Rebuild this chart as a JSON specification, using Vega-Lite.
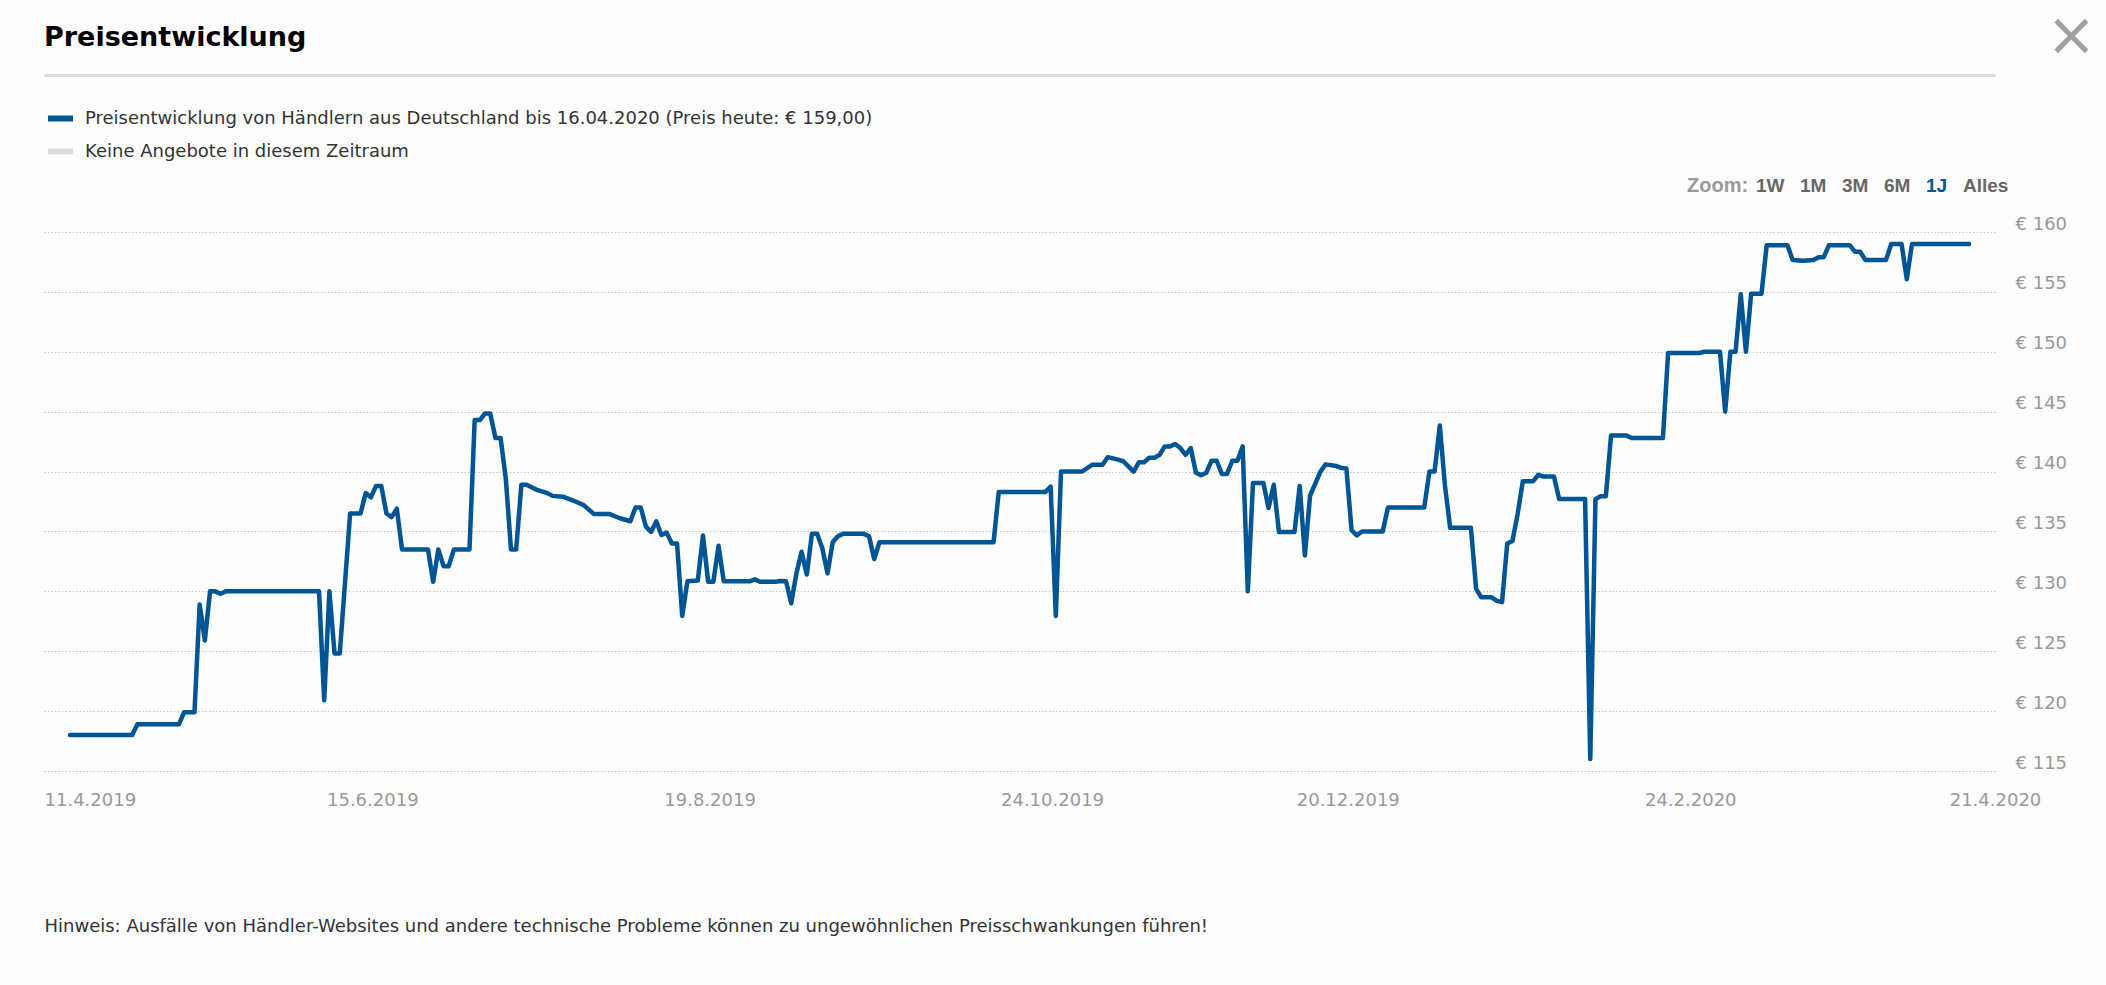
{
  "$schema": "https://vega.github.io/schema/vega-lite/v6.json",
  "width": 1951,
  "height": 539,
  "autosize": {"type": "none"},
  "padding": {"left": 44, "top": 232, "right": 111, "bottom": 214},
  "background": "#fdfdfd",
  "config": {"view": {"stroke": null}, "font": "DejaVu Sans"},
  "title": {
    "text": "Preisentwicklung",
    "anchor": "start",
    "frame": "group",
    "font": "DejaVu Sans",
    "fontSize": 27,
    "fontWeight": "bold",
    "color": "#000000",
    "offset": -46
  },
  "datasets": {
    "preise": [
      {"tag": "2019-04-16", "preis": 118.0},
      {"tag": "2019-04-28", "preis": 118.0},
      {"tag": "2019-04-29", "preis": 118.9},
      {"tag": "2019-05-07", "preis": 118.9},
      {"tag": "2019-05-08", "preis": 119.9},
      {"tag": "2019-05-10", "preis": 119.9},
      {"tag": "2019-05-11", "preis": 128.9},
      {"tag": "2019-05-12", "preis": 125.9},
      {"tag": "2019-05-13", "preis": 130.0},
      {"tag": "2019-05-14", "preis": 130.0},
      {"tag": "2019-05-15", "preis": 129.8},
      {"tag": "2019-05-16", "preis": 130.0},
      {"tag": "2019-06-03", "preis": 130.0},
      {"tag": "2019-06-04", "preis": 120.9},
      {"tag": "2019-06-05", "preis": 130.0},
      {"tag": "2019-06-06", "preis": 124.8},
      {"tag": "2019-06-07", "preis": 124.8},
      {"tag": "2019-06-09", "preis": 136.5},
      {"tag": "2019-06-11", "preis": 136.5},
      {"tag": "2019-06-12", "preis": 138.2},
      {"tag": "2019-06-13", "preis": 137.85},
      {"tag": "2019-06-14", "preis": 138.8},
      {"tag": "2019-06-15", "preis": 138.8},
      {"tag": "2019-06-16", "preis": 136.5},
      {"tag": "2019-06-17", "preis": 136.2},
      {"tag": "2019-06-18", "preis": 136.9},
      {"tag": "2019-06-19", "preis": 133.5},
      {"tag": "2019-06-24", "preis": 133.5},
      {"tag": "2019-06-25", "preis": 130.8},
      {"tag": "2019-06-26", "preis": 133.5},
      {"tag": "2019-06-27", "preis": 132.1},
      {"tag": "2019-06-28", "preis": 132.1},
      {"tag": "2019-06-29", "preis": 133.5},
      {"tag": "2019-07-02", "preis": 133.5},
      {"tag": "2019-07-03", "preis": 144.3},
      {"tag": "2019-07-04", "preis": 144.3},
      {"tag": "2019-07-05", "preis": 144.85},
      {"tag": "2019-07-06", "preis": 144.85},
      {"tag": "2019-07-07", "preis": 142.8},
      {"tag": "2019-07-08", "preis": 142.8},
      {"tag": "2019-07-09", "preis": 139.4},
      {"tag": "2019-07-10", "preis": 133.5},
      {"tag": "2019-07-11", "preis": 133.5},
      {"tag": "2019-07-12", "preis": 138.9},
      {"tag": "2019-07-13", "preis": 138.9},
      {"tag": "2019-07-15", "preis": 138.47},
      {"tag": "2019-07-17", "preis": 138.2},
      {"tag": "2019-07-18", "preis": 137.97},
      {"tag": "2019-07-20", "preis": 137.9},
      {"tag": "2019-07-22", "preis": 137.58},
      {"tag": "2019-07-24", "preis": 137.2},
      {"tag": "2019-07-26", "preis": 136.45},
      {"tag": "2019-07-29", "preis": 136.45},
      {"tag": "2019-07-31", "preis": 136.1},
      {"tag": "2019-08-02", "preis": 135.85},
      {"tag": "2019-08-03", "preis": 137.0},
      {"tag": "2019-08-04", "preis": 137.0},
      {"tag": "2019-08-05", "preis": 135.4},
      {"tag": "2019-08-06", "preis": 134.96},
      {"tag": "2019-08-07", "preis": 135.85},
      {"tag": "2019-08-08", "preis": 134.7},
      {"tag": "2019-08-09", "preis": 134.9},
      {"tag": "2019-08-10", "preis": 134.0},
      {"tag": "2019-08-11", "preis": 134.0},
      {"tag": "2019-08-12", "preis": 127.95},
      {"tag": "2019-08-13", "preis": 130.84},
      {"tag": "2019-08-15", "preis": 130.9},
      {"tag": "2019-08-16", "preis": 134.66},
      {"tag": "2019-08-17", "preis": 130.8},
      {"tag": "2019-08-18", "preis": 130.8},
      {"tag": "2019-08-19", "preis": 133.8},
      {"tag": "2019-08-20", "preis": 130.84},
      {"tag": "2019-08-25", "preis": 130.84},
      {"tag": "2019-08-26", "preis": 131.0},
      {"tag": "2019-08-27", "preis": 130.8},
      {"tag": "2019-08-30", "preis": 130.8},
      {"tag": "2019-08-31", "preis": 130.87},
      {"tag": "2019-09-01", "preis": 130.84},
      {"tag": "2019-09-02", "preis": 129.0},
      {"tag": "2019-09-03", "preis": 131.5},
      {"tag": "2019-09-04", "preis": 133.3},
      {"tag": "2019-09-05", "preis": 131.4},
      {"tag": "2019-09-06", "preis": 134.8},
      {"tag": "2019-09-07", "preis": 134.8},
      {"tag": "2019-09-08", "preis": 133.6},
      {"tag": "2019-09-09", "preis": 131.5},
      {"tag": "2019-09-10", "preis": 134.1},
      {"tag": "2019-09-11", "preis": 134.6},
      {"tag": "2019-09-12", "preis": 134.8},
      {"tag": "2019-09-16", "preis": 134.8},
      {"tag": "2019-09-17", "preis": 134.6},
      {"tag": "2019-09-18", "preis": 132.7},
      {"tag": "2019-09-19", "preis": 134.1},
      {"tag": "2019-10-11", "preis": 134.1},
      {"tag": "2019-10-12", "preis": 138.3},
      {"tag": "2019-10-21", "preis": 138.3},
      {"tag": "2019-10-22", "preis": 138.74},
      {"tag": "2019-10-23", "preis": 127.95},
      {"tag": "2019-10-24", "preis": 140.0},
      {"tag": "2019-10-28", "preis": 140.0},
      {"tag": "2019-10-30", "preis": 140.56},
      {"tag": "2019-11-01", "preis": 140.56},
      {"tag": "2019-11-02", "preis": 141.2},
      {"tag": "2019-11-04", "preis": 141.0},
      {"tag": "2019-11-05", "preis": 140.86},
      {"tag": "2019-11-07", "preis": 140.0},
      {"tag": "2019-11-08", "preis": 140.77},
      {"tag": "2019-11-09", "preis": 140.77},
      {"tag": "2019-11-10", "preis": 141.15},
      {"tag": "2019-11-11", "preis": 141.15},
      {"tag": "2019-11-12", "preis": 141.4},
      {"tag": "2019-11-13", "preis": 142.1},
      {"tag": "2019-11-14", "preis": 142.1},
      {"tag": "2019-11-15", "preis": 142.3},
      {"tag": "2019-11-16", "preis": 141.96},
      {"tag": "2019-11-17", "preis": 141.4},
      {"tag": "2019-11-18", "preis": 141.96},
      {"tag": "2019-11-19", "preis": 139.9},
      {"tag": "2019-11-20", "preis": 139.7},
      {"tag": "2019-11-21", "preis": 139.9},
      {"tag": "2019-11-22", "preis": 140.9},
      {"tag": "2019-11-23", "preis": 140.9},
      {"tag": "2019-11-24", "preis": 139.8},
      {"tag": "2019-11-25", "preis": 139.8},
      {"tag": "2019-11-26", "preis": 140.9},
      {"tag": "2019-11-27", "preis": 140.9},
      {"tag": "2019-11-28", "preis": 142.1},
      {"tag": "2019-11-29", "preis": 130.0},
      {"tag": "2019-11-30", "preis": 139.04},
      {"tag": "2019-12-02", "preis": 139.04},
      {"tag": "2019-12-03", "preis": 136.95},
      {"tag": "2019-12-04", "preis": 138.9},
      {"tag": "2019-12-05", "preis": 134.96},
      {"tag": "2019-12-08", "preis": 134.96},
      {"tag": "2019-12-09", "preis": 138.8},
      {"tag": "2019-12-10", "preis": 133.0},
      {"tag": "2019-12-11", "preis": 138.0},
      {"tag": "2019-12-12", "preis": 138.98},
      {"tag": "2019-12-13", "preis": 140.0},
      {"tag": "2019-12-14", "preis": 140.6},
      {"tag": "2019-12-16", "preis": 140.47},
      {"tag": "2019-12-17", "preis": 140.3},
      {"tag": "2019-12-18", "preis": 140.26},
      {"tag": "2019-12-19", "preis": 135.1},
      {"tag": "2019-12-20", "preis": 134.66},
      {"tag": "2019-12-21", "preis": 135.0},
      {"tag": "2019-12-25", "preis": 135.0},
      {"tag": "2019-12-26", "preis": 137.0},
      {"tag": "2020-01-02", "preis": 137.0},
      {"tag": "2020-01-03", "preis": 140.0},
      {"tag": "2020-01-04", "preis": 140.0},
      {"tag": "2020-01-05", "preis": 143.84},
      {"tag": "2020-01-06", "preis": 138.8},
      {"tag": "2020-01-07", "preis": 135.3},
      {"tag": "2020-01-11", "preis": 135.3},
      {"tag": "2020-01-12", "preis": 130.2},
      {"tag": "2020-01-13", "preis": 129.5},
      {"tag": "2020-01-15", "preis": 129.5},
      {"tag": "2020-01-16", "preis": 129.2},
      {"tag": "2020-01-17", "preis": 129.1},
      {"tag": "2020-01-18", "preis": 134.0},
      {"tag": "2020-01-19", "preis": 134.2},
      {"tag": "2020-01-20", "preis": 136.45},
      {"tag": "2020-01-21", "preis": 139.2},
      {"tag": "2020-01-23", "preis": 139.2},
      {"tag": "2020-01-24", "preis": 139.73},
      {"tag": "2020-01-25", "preis": 139.58},
      {"tag": "2020-01-27", "preis": 139.58},
      {"tag": "2020-01-28", "preis": 137.7},
      {"tag": "2020-02-02", "preis": 137.7},
      {"tag": "2020-02-03", "preis": 116.0},
      {"tag": "2020-02-04", "preis": 137.7},
      {"tag": "2020-02-05", "preis": 137.94},
      {"tag": "2020-02-06", "preis": 137.94},
      {"tag": "2020-02-07", "preis": 143.0},
      {"tag": "2020-02-10", "preis": 143.0},
      {"tag": "2020-02-11", "preis": 142.8},
      {"tag": "2020-02-17", "preis": 142.8},
      {"tag": "2020-02-18", "preis": 149.9},
      {"tag": "2020-02-24", "preis": 149.9},
      {"tag": "2020-02-25", "preis": 150.0},
      {"tag": "2020-02-28", "preis": 150.0},
      {"tag": "2020-02-29", "preis": 145.0},
      {"tag": "2020-03-01", "preis": 150.0},
      {"tag": "2020-03-02", "preis": 150.0},
      {"tag": "2020-03-03", "preis": 154.8},
      {"tag": "2020-03-04", "preis": 150.0},
      {"tag": "2020-03-05", "preis": 154.84},
      {"tag": "2020-03-07", "preis": 154.84},
      {"tag": "2020-03-08", "preis": 158.9},
      {"tag": "2020-03-12", "preis": 158.9},
      {"tag": "2020-03-13", "preis": 157.67},
      {"tag": "2020-03-15", "preis": 157.6},
      {"tag": "2020-03-17", "preis": 157.67},
      {"tag": "2020-03-18", "preis": 157.9},
      {"tag": "2020-03-19", "preis": 157.9},
      {"tag": "2020-03-20", "preis": 158.9},
      {"tag": "2020-03-24", "preis": 158.9},
      {"tag": "2020-03-25", "preis": 158.36},
      {"tag": "2020-03-26", "preis": 158.36},
      {"tag": "2020-03-27", "preis": 157.67},
      {"tag": "2020-03-31", "preis": 157.67},
      {"tag": "2020-04-01", "preis": 159.0},
      {"tag": "2020-04-03", "preis": 159.0},
      {"tag": "2020-04-04", "preis": 156.06},
      {"tag": "2020-04-05", "preis": 159.0},
      {"tag": "2020-04-16", "preis": 159.0}
    ],
    "zoom": [
      {"z": "1W"}, {"z": "1M"}, {"z": "3M"}, {"z": "6M"}, {"z": "1J"}, {"z": "Alles"}
    ]
  },
  "layer": [
    {
      "data": {"name": "preise"},
      "mark": {"type": "line", "strokeWidth": 4.5, "strokeJoin": "round", "strokeCap": "round"},
      "encoding": {
        "x": {
          "field": "tag",
          "type": "temporal",
          "scale": {
            "type": "utc",
            "domain": [
              {"year": 2019, "month": 4, "date": 11, "utc": true},
              {"year": 2020, "month": 4, "date": 21, "utc": true}
            ]
          },
          "axis": {
            "values": [
              {"year": 2019, "month": 4, "date": 11, "utc": true},
              {"year": 2019, "month": 6, "date": 15, "utc": true},
              {"year": 2019, "month": 8, "date": 19, "utc": true},
              {"year": 2019, "month": 10, "date": 24, "utc": true},
              {"year": 2019, "month": 12, "date": 20, "utc": true},
              {"year": 2020, "month": 2, "date": 24, "utc": true},
              {"year": 2020, "month": 4, "date": 21, "utc": true}
            ],
            "format": "%-d.%-m.%Y",
            "grid": false,
            "domain": false,
            "ticks": false,
            "tickSize": 0,
            "labelFont": "DejaVu Sans",
            "labelFontSize": 18,
            "labelColor": "#999999",
            "labelPadding": 20,
            "labelFlush": false,
            "labelOverlap": false,
            "labelAlign": {"condition": {"test": "datum.value < 1555000000000", "value": "left"}, "value": "center"},
            "labelOffset": {"condition": {"test": "datum.value > 1555000000000 && datum.value < 1587000000000", "value": -9}, "value": 0},
            "title": "Hinweis: Ausfälle von Händler-Websites und andere technische Probleme können zu ungewöhnlichen Preisschwankungen führen!",
            "titleFont": "DejaVu Sans",
            "titleFontSize": 18,
            "titleFontWeight": "normal",
            "titleColor": "#333333",
            "titleAlign": "left",
            "titleBaseline": "top",
            "titleX": 0,
            "titleY": 146,
            "titleLimit": 3000
          }
        },
        "y": {
          "field": "preis",
          "type": "quantitative",
          "scale": {"domain": [115, 160], "nice": false, "zero": false},
          "axis": {
            "orient": "right",
            "values": [115, 120, 125, 130, 135, 140, 145, 150, 155, 160],
            "labelExpr": "'€ ' + datum.value",
            "grid": true,
            "gridColor": "#c4c4c4",
            "gridDash": [1.5, 2],
            "gridWidth": 1,
            "domain": false,
            "ticks": false,
            "tickSize": 0,
            "labelPadding": 20,
            "labelFont": "DejaVu Sans",
            "labelFontSize": 18,
            "labelColor": "#999999",
            "labelAlign": "left",
            "labelBaseline": "alphabetic",
            "labelOffset": -3,
            "title": "×",
            "titleAngle": 0,
            "titleX": 76,
            "titleY": -196,
            "titleFont": "DejaVu Sans",
            "titleFontSize": 60,
            "titleFontWeight": "normal",
            "titleColor": "#a0a0a0",
            "titleAlign": "center",
            "titleBaseline": "middle"
          }
        },
        "color": {
          "datum": "Preisentwicklung von Händlern aus Deutschland bis 16.04.2020 (Preis heute: € 159,00)",
          "type": "nominal",
          "scale": {
            "domain": [
              "Preisentwicklung von Händlern aus Deutschland bis 16.04.2020 (Preis heute: € 159,00)",
              "Keine Angebote in diesem Zeitraum"
            ],
            "range": ["#005596", "#dddddd"]
          },
          "legend": {
            "orient": "none",
            "legendX": 1,
            "legendY": -129,
            "direction": "vertical",
            "title": null,
            "symbolType": "stroke",
            "symbolSize": 625,
            "symbolStrokeWidth": 6,
            "labelFont": "DejaVu Sans",
            "labelFontSize": 18,
            "labelColor": "#333333",
            "labelOffset": 9,
            "labelLimit": 2000,
            "rowPadding": 5,
            "padding": 0
          }
        }
      }
    },
    {
      "data": {"name": "zoom"},
      "mark": {"type": "point", "opacity": 0},
      "encoding": {
        "x": {
          "datum": {"year": 2019, "month": 4, "date": 16, "utc": true},
          "type": "temporal",
          "axis": {
            "orient": "top",
            "offset": 157,
            "domainColor": "#dadada",
            "domainWidth": 3,
            "labels": false,
            "ticks": false,
            "grid": false,
            "title": null
          }
        },
        "shape": {
          "field": "z",
          "type": "nominal",
          "scale": {"domain": ["1W", "1M", "3M", "6M", "1J", "Alles"]},
          "legend": {
            "orient": "none",
            "legendX": 1643,
            "legendY": -56,
            "direction": "horizontal",
            "gridAlign": "none",
            "title": "Zoom:",
            "titleOrient": "left",
            "titleFont": "Liberation Sans",
            "titleFontSize": 20,
            "titleFontWeight": "bold",
            "titleColor": "#999999",
            "titlePadding": -12,
            "labelFont": "Liberation Sans",
            "labelFontSize": 19,
            "labelFontWeight": "bold",
            "labelColor": {"expr": "datum.label == '1J' ? '#005596' : '#666666'"},
            "symbolSize": 0,
            "symbolOpacity": 0,
            "symbolStrokeWidth": 0,
            "labelOffset": 0,
            "columnPadding": -4,
            "padding": 0
          }
        }
      }
    }
  ],
  "resolve": {"axis": {"x": "independent"}}
}
